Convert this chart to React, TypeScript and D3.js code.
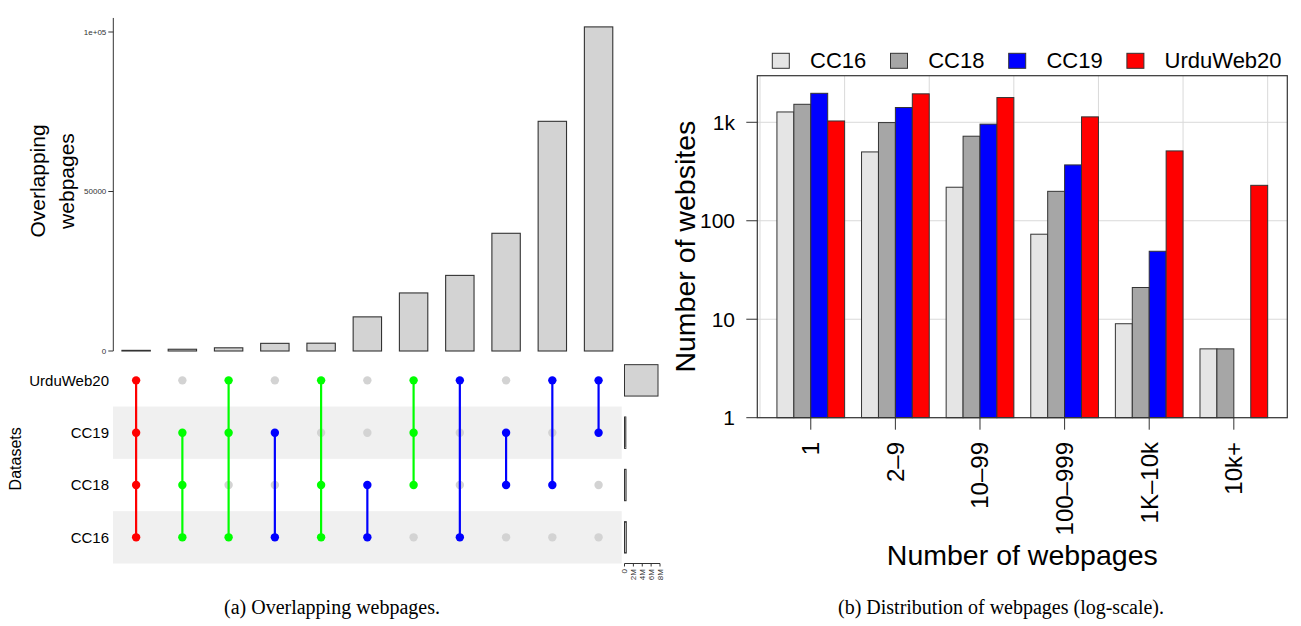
import * as d3 from "d3";

// ---- panel (a): UpSet plot data ----
const sets = ["UrduWeb20", "CC19", "CC18", "CC16"];
const setSizes = [7.55e6, 0.3e6, 0.35e6, 0.4e6];
const comboMembers: string[][] = [
  ["UrduWeb20", "CC19", "CC18", "CC16"],
  ["CC19", "CC18", "CC16"],
  ["UrduWeb20", "CC19", "CC16"],
  ["CC19", "CC16"],
  ["UrduWeb20", "CC18", "CC16"],
  ["CC18", "CC16"],
  ["UrduWeb20", "CC19", "CC18"],
  ["UrduWeb20", "CC16"],
  ["CC19", "CC18"],
  ["UrduWeb20", "CC18"],
  ["UrduWeb20", "CC19"],
];
const comboSizes = [200, 550, 1000, 2400, 2450, 10700, 18200, 23700, 36900, 72000, 101600];
const mainTicks = [0, 50000, 100000];
const mainTickLabels = ["0", "50000", "1e+05"];
const sizeTicks = [0, 2e6, 4e6, 6e6, 8e6];
const sizeTickLabels = ["0", "2M", "4M", "6M", "8M"];

// ---- panel (b): distribution data ----
const bins = ["1", "2\u20139", "10\u201399", "100\u2013999", "1K\u201310k", "10k+"];
const seriesNames = ["CC16", "CC18", "CC19", "UrduWeb20"];
const cc16 = [1273, 500, 219, 73, 9, 5];
const cc18 = [1523, 993, 722, 199, 21, 5];
const cc19 = [1969, 1412, 957, 369, 49, 0];
const urdu = [1031, 1945, 1783, 1135, 512, 229];
const logTicks = [1, 10, 100, 1000];
const logTickLabels = ["1", "10", "100", "1k"];

const SANS = "'Liberation Sans', Arial, Helvetica, sans-serif";
const SERIF = "'Liberation Serif', 'Times New Roman', serif";

function UpSet() {
  const colX = d3
    .scaleBand<number>()
    .domain(d3.range(comboSizes.length))
    .range([113, 621.7])
    .paddingInner(0.386)
    .paddingOuter(0.193);
  const barY = d3.scaleLinear().domain([0, 100000]).range([351, 32]);
  const rowY = d3.scaleBand<string>().domain(sets).range([354.2, 563.5]);
  const sizeBand = d3
    .scaleBand<string>()
    .domain(sets)
    .range([354.2, 563.5])
    .paddingInner(0.4)
    .paddingOuter(0.2);
  const sizeX = d3.scaleLinear().domain([0, 8e6]).range([624.5, 660]);
  const degColor = (n: number) => (n === 4 ? "#ff0000" : n === 3 ? "#00ff00" : "#0000ff");
  const cx = (i: number) => colX(i)! + colX.bandwidth() / 2;
  const cy = (s: string) => rowY(s)! + rowY.bandwidth() / 2;
  const axisX = 113.3;

  return (
    <g>
      {/* main bar axis */}
      <line x1={axisX} x2={axisX} y1={barY(104400)} y2={barY(0)} stroke="#333" strokeWidth={1} />
      {mainTicks.map((t, i) => (
        <g key={t}>
          <line x1={axisX - 5} x2={axisX} y1={barY(t)} y2={barY(t)} stroke="#333" />
          <text x={axisX - 7} y={barY(t)} dy="0.35em" textAnchor="end" fontSize={8} fill="#333">
            {mainTickLabels[i]}
          </text>
        </g>
      ))}
      {comboSizes.map((v, i) => (
        <rect
          key={i}
          x={colX(i)}
          y={barY(v)}
          width={colX.bandwidth()}
          height={barY(0) - barY(v)}
          fill="#d3d3d3"
          stroke="#333"
          strokeWidth={1.1}
        />
      ))}
      <text transform="translate(45,181) rotate(-90)" textAnchor="middle" fontSize={21}>
        Overlapping
      </text>
      <text transform="translate(74,181) rotate(-90)" textAnchor="middle" fontSize={21}>
        webpages
      </text>

      {/* matrix */}
      {sets.map((s, i) =>
        i % 2 === 1 ? (
          <rect key={s} x={113} y={rowY(s)} width={621.7 - 113} height={rowY.bandwidth()} fill="#f0f0f0" />
        ) : null
      )}
      {sets.map((s) => (
        <text key={s} x={109} y={cy(s)} dy="0.35em" textAnchor="end" fontSize={15}>
          {s}
        </text>
      ))}
      <text transform={`translate(21,${(354.2 + 563.5) / 2}) rotate(-90)`} textAnchor="middle" fontSize={16}>
        Datasets
      </text>
      {comboMembers.map((m, i) =>
        sets
          .filter((s) => !m.includes(s))
          .map((s) => <circle key={`g${i}${s}`} cx={cx(i)} cy={cy(s)} r={4.2} fill="#d3d3d3" />)
      )}
      {comboMembers.map((m, i) => {
        const ys = m.map(cy);
        return (
          <line
            key={`l${i}`}
            x1={cx(i)}
            x2={cx(i)}
            y1={d3.min(ys)}
            y2={d3.max(ys)}
            stroke={degColor(m.length)}
            strokeWidth={2.2}
          />
        );
      })}
      {comboMembers.map((m, i) =>
        m.map((s) => <circle key={`a${i}${s}`} cx={cx(i)} cy={cy(s)} r={4.2} fill={degColor(m.length)} />)
      )}

      {/* set sizes */}
      {sets.map((s, i) => (
        <rect
          key={s}
          x={sizeX(0)}
          y={sizeBand(s)}
          width={sizeX(setSizes[i]) - sizeX(0)}
          height={sizeBand.bandwidth()}
          fill="#d3d3d3"
          stroke="#333"
          strokeWidth={1}
        />
      ))}
      <line x1={sizeX(0)} x2={sizeX(8e6)} y1={563.5} y2={563.5} stroke="#333" />
      {sizeTicks.map((t, i) => (
        <g key={t}>
          <line x1={sizeX(t)} x2={sizeX(t)} y1={563.5} y2={566.5} stroke="#333" />
          <text
            transform={`translate(${sizeX(t) + 2.8},569) rotate(-90)`}
            textAnchor="end"
            fontSize={8}
            fill="#333"
          >
            {sizeTickLabels[i]}
          </text>
        </g>
      ))}
    </g>
  );
}

function Distribution() {
  const left = 757.3, right = 1287.3, top = 75.7, bottom = 417.7;
  const xu = d3.scaleLinear().domain([-0.16, 31.16]).range([left, right]);
  const gx = d3.scaleBand<string>().domain(bins).range([xu(1), xu(30)]).paddingInner(0.2).paddingOuter(0);
  const sx = d3.scaleBand<string>().domain(seriesNames).range([0, gx.bandwidth()]);
  const ly = d3.scaleLog().domain([1, 2972]).range([bottom, top]);
  const colors = ["#e5e5e5", "#a6a6a6", "#0000ff", "#ff0000"];
  const values = [cc16, cc18, cc19, urdu];
  const gridX = d3.range(0, 31, 5);

  return (
    <g>
      {gridX.map((u) => (
        <line key={`gx${u}`} x1={xu(u)} x2={xu(u)} y1={top} y2={bottom} stroke="#d9d9d9" />
      ))}
      {logTicks.map((t) => (
        <line key={`gy${t}`} x1={left} x2={right} y1={ly(t)} y2={ly(t)} stroke="#d9d9d9" />
      ))}
      {bins.map((b, bi) =>
        seriesNames.map((s, si) => {
          const v = values[si][bi];
          if (v <= 1) return null;
          return (
            <rect
              key={`${b}${s}`}
              x={gx(b)! + sx(s)!}
              y={ly(v)}
              width={sx.bandwidth()}
              height={ly(1) - ly(v)}
              fill={colors[si]}
              stroke="#333"
              strokeWidth={1}
            />
          );
        })
      )}
      <rect x={left} y={top} width={right - left} height={bottom - top} fill="none" stroke="#333" strokeWidth={1.2} />
      {logTicks.map((t, i) => (
        <g key={t}>
          <line x1={left - 11} x2={left} y1={ly(t)} y2={ly(t)} stroke="#333" />
          <text x={735} y={ly(t)} dy="0.35em" textAnchor="end" fontSize={21}>
            {logTickLabels[i]}
          </text>
        </g>
      ))}
      {bins.map((b) => {
        const c = gx(b)! + gx.bandwidth() / 2;
        return (
          <g key={b}>
            <line x1={c} x2={c} y1={bottom} y2={bottom + 12} stroke="#333" />
            <text transform={`translate(${c + 8.5},442) rotate(-90)`} textAnchor="end" fontSize={24}>
              {b}
            </text>
          </g>
        );
      })}
      <text transform={`translate(695,${(top + bottom) / 2}) rotate(-90)`} textAnchor="middle" fontSize={28.5}>
        Number of websites
      </text>
      <text x={(left + right) / 2} y={565} textAnchor="middle" fontSize={28.5}>
        Number of webpages
      </text>
      {seriesNames.map((s, i) => (
        <g key={s} transform={`translate(${772.3 + i * 118.2},0)`}>
          <rect x={0} y={53.3} width={17} height={15} fill={colors[i]} stroke="#333" />
          <text x={37.7} y={68.3} fontSize={22}>
            {s}
          </text>
        </g>
      ))}
    </g>
  );
}

export default function App() {
  return (
    <svg
      width={1301}
      height={626}
      style={{ position: "absolute", left: 0, top: 0, background: "#fff" }}
      fontFamily={SANS}
    >
      <rect width={1301} height={626} fill="#fff" />
      <UpSet />
      <Distribution />
      <text x={332} y={614} textAnchor="middle" fontFamily={SERIF} fontSize={20}>
        (a) Overlapping webpages.
      </text>
      <text x={1001} y={614} textAnchor="middle" fontFamily={SERIF} fontSize={20}>
        (b) Distribution of webpages (log-scale).
      </text>
    </svg>
  );
}
